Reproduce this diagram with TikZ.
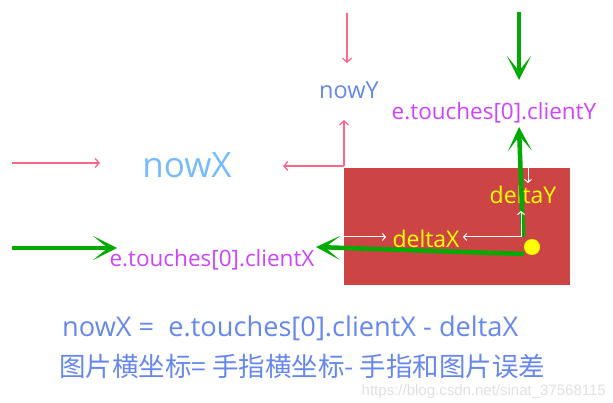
\documentclass[tikz,border=0pt]{standalone}
\usepackage{fontspec}
\setmainfont{Open Sans}
\newfontfamily\cjk{Noto Sans CJK SC}
\newfontfamily\marksans{Liberation Sans}
\usetikzlibrary{arrows.meta}
\definecolor{pinkline}{RGB}{255,102,136}
\definecolor{boxred}{RGB}{204,68,68}
\definecolor{touchgreen}{RGB}{0,170,0}
\definecolor{labelblue}{RGB}{102,136,238}
\definecolor{nowblue}{RGB}{119,187,255}
\definecolor{touchpurple}{RGB}{204,68,255}
\definecolor{deltayellow}{RGB}{255,255,0}

\begin{document}
\begin{tikzpicture}[x=1pt,y=-1pt]
        \tikzstyle{pinkarrow}=[draw=pinkline,line width=1.3pt,-{Straight Barb[length=4pt,width=9pt]}]
        \tikzstyle{greenarrow}=[draw=touchgreen,line width=4.5pt,-{Stealth[length=24pt,width=24pt,inset=15pt]}]
        \tikzstyle{whitearrow}=[draw=white,line width=1pt,-{Straight Barb[length=3pt,width=7pt]}]
        \tikzstyle{label}=[inner sep=0pt,anchor=center]
       \useasboundingbox (0,0) rectangle (613,403);
       \begin{scope}
         % the picture
         \fill[boxred] (344,168) rectangle (570,285);
         \node [label,text=nowblue,font=\fontsize{35}{35}\selectfont] (nowx) at (187,165) {nowX};
         \node [label,text=labelblue,font=\fontsize{23.5}{23.5}\selectfont] (nowy) at (349,90) {nowY};
         \node [label,text=touchpurple,font=\fontsize{22.5}{22.5}\selectfont] (clienty) at (494,113) {e.touches[0].clientY};
         \node [label,text=touchpurple,font=\fontsize{22.5}{22.5}\selectfont] (clientx) at (212,260) {e.touches[0].clientX};
         \node [label,text=deltayellow,font=\fontsize{23}{23}\selectfont] (deltay) at (523,195) {deltaY};
         \node [label,text=deltayellow,font=\fontsize{23}{23}\selectfont] (deltax) at (426,239) {deltaX};
         \node [circle,fill=deltayellow,minimum size=16pt,inner sep=0pt] (finger) at (532,247) {};
       \end{scope}
       \begin{scope}
         % pink: position of the picture
         \coordinate (corner) at (344,166);
         \coordinate (ytop) at (347,13);
         \coordinate (yend) at (347,63);
         \coordinate (yup) at (344,120);
         \coordinate (xleft) at (283,166);
         \coordinate (xstart) at (12,163);
         \coordinate (xend) at (100,163);
         \path[pinkarrow] (ytop) -- (yend);
         \path[pinkarrow] (corner) -- (yup);
         \path[pinkarrow] (corner) -- (xleft);
         \path[pinkarrow] (xstart) -- (xend);
       \end{scope}
       \begin{scope}
         % green: position of the finger
         \coordinate (gtop) at (519,12);
         \coordinate (gtopend) at (519,80);
         \coordinate (gup) at (523,237);
         \coordinate (gupend) at (519,127);
         \coordinate (gleft) at (524,254);
         \coordinate (gleftend) at (316,247);
         \coordinate (gstart) at (12,248);
         \coordinate (gend) at (117,248);
         \path[greenarrow] (gtop) -- (gtopend);
         \path[greenarrow] (gup) -- (gupend);
         \path[greenarrow] (gleft) -- (gleftend);
         \path[greenarrow] (gstart) -- (gend);
       \end{scope}
       \begin{scope}
         % white: the deltas
         \coordinate (wleft) at (344,237);
         \coordinate (wright) at (386,237);
         \coordinate (wcorner) at (521,237);
         \coordinate (wcornerend) at (463,237);
         \coordinate (wup) at (521,211);
         \coordinate (wtop) at (528,168);
         \coordinate (wtopend) at (528,183);
         \path[whitearrow] (wleft) -- (wright);
         \path[whitearrow] (wcorner) -- (wcornerend);
         \path[whitearrow] (wcorner) -- (wup);
         \path[whitearrow] (wtop) -- (wtopend);
       \end{scope}
       \node [label,text=labelblue,font=\fontsize{27.2}{27.2}\selectfont,anchor=west] (formula) at (62,328) {nowX =\ \ e.touches[0].clientX - deltaX};
       \node [label,text=labelblue,font=\fontsize{26.5}{26.5}\cjk,anchor=west] (formulacn) at (59,366) {图片横坐标= 手指横坐标- 手指和图片误差};
       \node [label,text=black!12,font=\marksans\fontsize{15}{15}\selectfont,anchor=east] (watermark) at (606,392) {https://blog.csdn.net/sinat\_37568115};
      \end{tikzpicture}
\end{document}
